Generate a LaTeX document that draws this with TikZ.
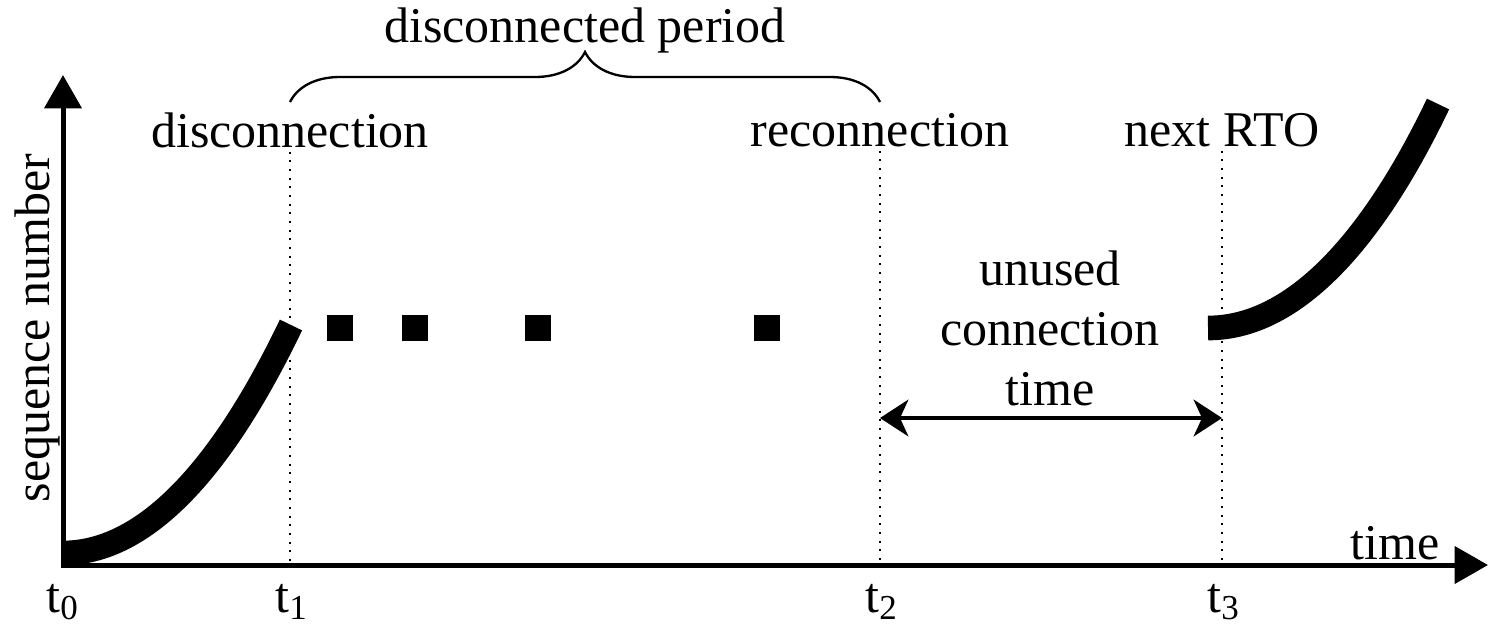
\documentclass[tikz,border=0pt]{standalone}
\usepackage{fontspec}
\setmainfont{Liberation Serif}
\usetikzlibrary{arrows.meta,decorations.pathreplacing,positioning}

\begin{document}
\begin{tikzpicture}[x=0.3pt, y=-0.3pt,
    every node/.style={font=\fontsize{15}{18}\selectfont, text=black, inner sep=0pt},
    axis/.style={line width=1.5pt, -{Triangle[length=10pt,width=11pt]}},
    seq/.style={line width=7.4pt},
    markline/.style={dotted, line width=0.6pt},
    packet/.style={fill=black, minimum size=7.8pt},
    span/.style={line width=1.2pt, {Stealth[length=8.5pt,width=11pt,inset=2.5pt]}-{Stealth[length=8.5pt,width=11pt,inset=2.5pt]}},
    period/.style={decorate, decoration={brace, amplitude=15pt}, line width=0.7pt},
    ]
  \useasboundingbox (0,0) rectangle (1490,627);

  % axes
  \coordinate (origin) at (63,565);
  \coordinate (ytop) at (63,75);
  \coordinate (xend) at (1488,565);
  \draw[axis] ([yshift=-0.75pt]origin) -- (ytop);
  \draw[axis] ([xshift=-0.75pt]origin) -- (xend);
  \node[rotate=90] (ylabel) at (37,328) {sequence number};
  \node (xlabel) at (1395,543) {time};

  % time marks
  \node (t0) at (63,602) {t\textsubscript{0}};
  \node (t1) at (292,602) {t\textsubscript{1}};
  \node (t2) at (882,602) {t\textsubscript{2}};
  \node (t3) at (1224,602) {t\textsubscript{3}};

  \node (disc) at (290,130) {disconnection};
  \node (reco) at (880,130) {reconnection};
  \node (rto) at (1222,130) {next RTO};

  \draw[markline] ([yshift=-1pt]disc.south) -- (disc.south |- origin);
  \draw[markline] ([yshift=-1pt]reco.south) -- (reco.south |- origin);
  \draw[markline] ([yshift=-1pt]rto.south) -- (rto.south |- origin);

  % disconnected period
  \coordinate (bl) at (290,102);
  \coordinate (br) at (880,102);
  \draw[period] (bl) -- (br);
  \node (periodlabel) at (585,30) {disconnected period};

  % sequence numbers
  \draw[seq] (63,553) .. controls (170,553) and (250,410) .. (291,325);
  \foreach \x in {340,415,538,767}
    \node[packet] (pkt\x) at (\x,328) {};
  \draw[seq] (1208,328) .. controls (1315,328) and (1395,194) .. (1438,104);

  % unused connection time
  \coordinate (spanrow) at (0,418);
  \draw[span] (reco.south |- spanrow) -- (rto.south |- spanrow);
  \node[align=center] (unused) at (1050,328) {unused\\connection\\time};

\end{tikzpicture}
\end{document}
